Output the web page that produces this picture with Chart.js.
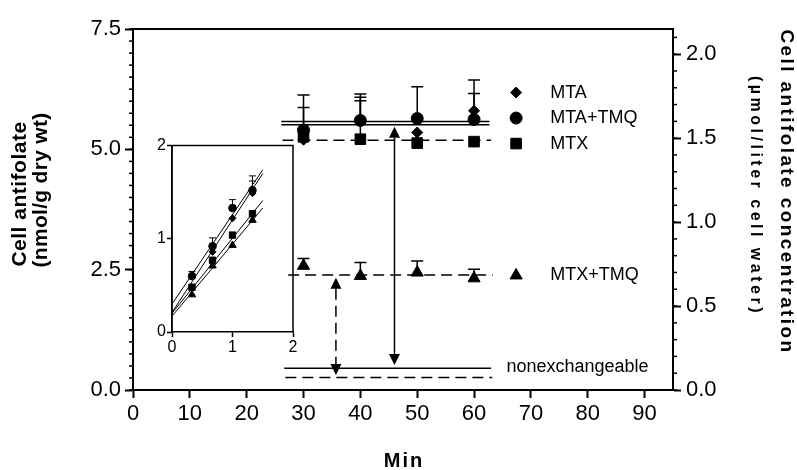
<!DOCTYPE html>
<html>
<head>
<meta charset="utf-8">
<script src="https://cdn.jsdelivr.net/npm/chart.js@4.4.0/dist/chart.umd.min.js"></script>
<style>
  html, body { margin: 0; padding: 0; background: #fff; }
  #wrap { position: relative; width: 797px; height: 470px; }
  #main { position: absolute; left: 0; top: 0; }
  #inset { position: absolute; left: 140px; top: 135px; }
</style>
</head>
<body>
<div id="wrap">
  <canvas id="main" width="797" height="470"></canvas>
  <canvas id="inset" width="160" height="220"></canvas>
</div>
<script>
// steady-state samples (min) and cell antifolate (nmol/g dry wt)
const minutes = [30, 40, 50, 60];
const mtaTmq = [5.40, 5.60, 5.64, 5.62];
const mtaTmqHigh = [6.13, 6.15, 6.30, 6.44];
const mta = [5.20, 5.58, 5.35, 5.80];
const mtaHigh = [5.87, 6.08, null, 6.16];
const mtx = [5.26, 5.21, 5.13, 5.16];
const mtxHigh = [null, 6.01, null, null];
const mtxTmq = [2.58, 2.37, 2.44, 2.32];
const mtxTmqHigh = [2.73, 2.65, 2.68, 2.51];

// plateau levels and nonexchangeable levels
const levelValues = [5.58, 5.51, 5.19, 2.39, 0.45, 0.26];
const levelFrom = [26.1, 26.1, 26.3, 27.3, 26.6, 26.8];
const levelTo = [62.7, 62.7, 63.0, 63.3, 63.0, 63.2];

// exchangeable pool arrows (MTA solid, MTX dashed)
const arrowMinutes = [46.0, 35.7];
const arrowTop = [5.47, 2.33];
const arrowBottom = [0.52, 0.31];

// initial uptake (inset)
const insetMinutes = [0.33, 0.67, 1.0, 1.33];
const insetMtaTmq = [0.60, 0.92, 1.33, 1.52];
const insetMtaTmqHigh = [0.65, 1.01, 1.42, 1.675];
const insetMta = [0.48, 0.86, 1.22, 1.49];
const insetMtaHigh = [null, null, null, 1.62];
const insetMtx = [0.48, 0.77, 1.04, 1.27];
const insetMtxTmq = [0.40, 0.71, 0.93, 1.20];
const fitAtZero = [0.30, 0.21, 0.20, 0.17];
const fitAtEnd = [1.74, 1.70, 1.41, 1.33];
const fitRange = [0, 1.5];

// tick labels
const xTicks = [0, 10, 20, 30, 40, 50, 60, 70, 80, 90];
const leftTicks = [0, 2.5, 5.0, 7.5];
const rightTicks = [0, 0.5, 1.0, 1.5, 2.0];
const insetTicks = [0, 1, 2];

Chart.defaults.font.family = '"Liberation Sans", Arial, sans-serif';
Chart.defaults.color = '#000';

const pts = (xs, ys) => xs.map((x, i) => ({ x: x, y: ys[i] }));

// short unlabeled ticks between the labeled ones
const minorTicks = {
  id: 'minorTicks',
  afterDraw(chart, args, opts) {
    const ctx = chart.ctx;
    ctx.save();
    ctx.strokeStyle = '#000';
    ctx.lineWidth = opts.width || 1.5;
    Object.keys(opts.steps || {}).forEach(id => {
      const scale = chart.scales[id];
      const step = opts.steps[id];
      const n = Math.floor((scale.max - scale.min) / step + 1e-9);
      const left = scale.position === 'left';
      const x0 = left ? scale.right : scale.left;
      for (let i = 0; i <= n; i++) {
        const y = scale.getPixelForValue(scale.min + i * step);
        ctx.beginPath();
        ctx.moveTo(x0, y);
        ctx.lineTo(x0 + (left ? -opts.length : opts.length), y);
        ctx.stroke();
      }
    });
    ctx.restore();
  }
};

// box around the plotting area
const frame = {
  id: 'frame',
  afterDraw(chart, args, opts) {
    const a = chart.chartArea, ctx = chart.ctx;
    ctx.save();
    ctx.strokeStyle = '#000';
    ctx.lineWidth = opts.width || 2;
    ctx.beginPath();
    ctx.moveTo(a.left, a.bottom);
    ctx.lineTo(a.left, a.top);
    ctx.lineTo(a.right, a.top);
    ctx.lineTo(a.right, a.bottom);
    ctx.stroke();
    ctx.restore();
  }
};

// upper SD bars, taken from dataset.errorHigh
const errorBars = {
  id: 'errorBars',
  beforeDatasetsDraw(chart, args, opts) {
    const ctx = chart.ctx;
    ctx.save();
    ctx.strokeStyle = '#000';
    ctx.lineWidth = opts.width || 1.5;
    chart.data.datasets.forEach((ds, i) => {
      if (!ds.errorHigh) return;
      const meta = chart.getDatasetMeta(i);
      const yScale = chart.scales[meta.yAxisID];
      meta.data.forEach((el, j) => {
        const hi = ds.errorHigh[j];
        if (hi == null) return;
        const yh = yScale.getPixelForValue(hi);
        ctx.beginPath();
        ctx.moveTo(el.x, el.y);
        ctx.lineTo(el.x, yh);
        ctx.moveTo(el.x - opts.cap / 2, yh);
        ctx.lineTo(el.x + opts.cap / 2, yh);
        ctx.stroke();
      });
    });
    ctx.restore();
  }
};

// double-headed arrows between plateau and nonexchangeable level
const arrows = {
  id: 'arrows',
  afterDatasetsDraw(chart, args, opts) {
    const ctx = chart.ctx, xs = chart.scales.x, ys = chart.scales.y;
    const head = 11, half = 5.5;
    ctx.save();
    ctx.strokeStyle = '#000';
    ctx.fillStyle = '#000';
    ctx.lineWidth = 1.5;
    arrowMinutes.forEach((m, i) => {
      const x = xs.getPixelForValue(m);
      const yt = ys.getPixelForValue(arrowTop[i]);
      const yb = ys.getPixelForValue(arrowBottom[i]);
      ctx.setLineDash(opts.dashed[i] ? [11, 6] : []);
      ctx.beginPath();
      ctx.moveTo(x, yt + head);
      ctx.lineTo(x, yb - head);
      ctx.stroke();
      ctx.setLineDash([]);
      ctx.beginPath();
      ctx.moveTo(x, yt);
      ctx.lineTo(x - half, yt + head);
      ctx.lineTo(x + half, yt + head);
      ctx.closePath();
      ctx.moveTo(x, yb);
      ctx.lineTo(x - half, yb - head);
      ctx.lineTo(x + half, yb - head);
      ctx.closePath();
      ctx.fill();
    });
    ctx.restore();
  }
};

// series key placed beside the curves
const keyLabels = {
  id: 'keyLabels',
  afterDraw(chart, args, opts) {
    const ctx = chart.ctx, xs = chart.scales.x, ys = chart.scales.y;
    ctx.save();
    ctx.fillStyle = '#000';
    ctx.strokeStyle = '#000';
    ctx.font = '18px "Liberation Sans", Arial, sans-serif';
    ctx.textBaseline = 'middle';
    opts.entries.forEach(e => {
      const y = ys.getPixelForValue(e.at);
      if (e.style) {
        Chart.helpers.drawPoint(ctx, { pointStyle: e.style, radius: e.radius, rotation: 0, borderWidth: 1 },
          xs.getPixelForValue(opts.markerAt), y);
      }
      ctx.fillText(e.text, xs.getPixelForValue(e.textAt || opts.textAt), y);
    });
    ctx.restore();
  }
};

// axis titles
const axisTitles = {
  id: 'axisTitles',
  afterDraw(chart) {
    const ctx = chart.ctx;
    const put = (text, x, y, rot, font, spacing) => {
      ctx.save();
      ctx.translate(x, y);
      ctx.rotate(rot);
      ctx.font = font;
      ctx.letterSpacing = spacing + 'px';
      ctx.textAlign = 'center';
      ctx.textBaseline = 'middle';
      ctx.fillStyle = '#000';
      ctx.fillText(text, 0, 0);
      ctx.restore();
    };
    const bold = s => 'bold ' + s + 'px "Liberation Sans", Arial, sans-serif';
    put('Cell antifolate', 20, 194, -Math.PI / 2, bold(21), 0.5);
    put('(nmol/g dry wt)', 41, 190, -Math.PI / 2, bold(21), 0.3);
    put('Cell antifolate concentration', 786, 192, Math.PI / 2, bold(19), 2.4);
    put('(\u00b5mol/liter cell water)', 755, 196, Math.PI / 2, bold(16), 3.5);
    put('Min', 404, 461, 0, bold(20), 2);
  }
};

const levelDash = [[], [], [11, 6], [11, 6], [], [11, 6]];

const mainDatasets = levelValues.map((v, i) => ({
  data: [{ x: levelFrom[i], y: v }, { x: levelTo[i], y: v }],
  showLine: true,
  borderColor: '#000',
  borderWidth: 1.5,
  borderDash: levelDash[i],
  pointRadius: 0,
  order: 2
})).concat([
  { label: 'MTA+TMQ', data: pts(minutes, mtaTmq), errorHigh: mtaTmqHigh, pointStyle: 'circle', pointRadius: 6 },
  { label: 'MTA', data: pts(minutes, mta), errorHigh: mtaHigh, pointStyle: 'rectRot', pointRadius: 5.5 },
  { label: 'MTX', data: pts(minutes, mtx), errorHigh: mtxHigh, pointStyle: 'rect', pointRadius: 7.5 },
  { label: 'MTX+TMQ', data: pts(minutes, mtxTmq), errorHigh: mtxTmqHigh, pointStyle: 'triangle', pointRadius: 7 }
].map(d => Object.assign(d, { backgroundColor: '#000', borderColor: '#000', borderWidth: 1, order: 1 })));

const axisLine = { color: '#000', width: 2 };

new Chart(document.getElementById('main'), {
  type: 'scatter',
  data: { datasets: mainDatasets },
  options: {
    responsive: false,
    animation: false,
    events: [],
    layout: { padding: { top: 29, left: 0, right: 0, bottom: 0 } },
    plugins: {
      legend: { display: false },
      tooltip: { enabled: false },
      minorTicks: { steps: { y: 0.25, y2: 0.1 }, length: 4, width: 1.5 },
      frame: { width: 2 },
      errorBars: { cap: 12, width: 1.5 },
      arrows: { dashed: [false, true] },
      keyLabels: {
        markerAt: 67.4,
        textAt: 73.4,
        entries: [
          { text: 'MTA', at: 6.18, style: 'rectRot', radius: 5.5 },
          { text: 'MTA+TMQ', at: 5.65, style: 'circle', radius: 6 },
          { text: 'MTX', at: 5.12, style: 'rect', radius: 7.5 },
          { text: 'MTX+TMQ', at: 2.38, style: 'triangle', radius: 7 },
          { text: 'nonexchangeable', at: 0.47, textAt: 65.7 }
        ]
      }
    },
    scales: {
      x: {
        type: 'linear', min: 0, max: 95,
        afterBuildTicks: s => { s.ticks = xTicks.map(v => ({ value: v })); },
        afterFit: s => { s.height = 80; },
        ticks: { font: { size: 22 }, color: '#000', padding: 3, autoSkip: false, maxRotation: 0, callback: v => String(v) },
        grid: { drawOnChartArea: false, tickLength: 8, tickWidth: 2, color: '#000' },
        border: axisLine
      },
      y: {
        position: 'left', min: 0, max: 7.5,
        afterBuildTicks: s => { s.ticks = leftTicks.map(v => ({ value: v })); },
        afterFit: s => { s.width = 133; },
        ticks: { font: { size: 22 }, color: '#000', padding: 4, autoSkip: false, callback: v => v.toFixed(1) },
        grid: { drawOnChartArea: false, tickLength: 8, tickWidth: 2, color: '#000' },
        border: axisLine
      },
      y2: {
        position: 'right', min: 0, max: 2.15,
        afterBuildTicks: s => { s.ticks = rightTicks.map(v => ({ value: v })); },
        afterFit: s => { s.width = 124; },
        ticks: { font: { size: 22 }, color: '#000', padding: 5, autoSkip: false, callback: v => v.toFixed(1) },
        grid: { drawOnChartArea: false, tickLength: 8, tickWidth: 2, color: '#000' },
        border: axisLine
      }
    }
  },
  plugins: [minorTicks, frame, errorBars, arrows, keyLabels, axisTitles]
});

// inset: first 90 s of uptake with fitted lines
const insetSeries = [
  { data: insetMtaTmq, high: insetMtaTmqHigh, style: 'circle', radius: 3.8 },
  { data: insetMta, high: insetMtaHigh, style: 'rectRot', radius: 3.5 },
  { data: insetMtx, high: null, style: 'rect', radius: 4.5 },
  { data: insetMtxTmq, high: null, style: 'triangle', radius: 4.3 }
];

const insetDatasets = fitAtZero.map((a, i) => ({
  data: [{ x: fitRange[0], y: a }, { x: fitRange[1], y: fitAtEnd[i] }],
  showLine: true,
  borderColor: '#000',
  borderWidth: 1,
  pointRadius: 0,
  order: 2
})).concat(insetSeries.map(s => ({
  data: pts(insetMinutes, s.data),
  errorHigh: s.high,
  pointStyle: s.style,
  pointRadius: s.radius,
  backgroundColor: '#000',
  borderColor: '#000',
  borderWidth: 1,
  order: 1
})));

const insetAxis = (ticks, fit) => ({
  type: 'linear', min: 0, max: 2,
  afterBuildTicks: s => { s.ticks = ticks.map(v => ({ value: v })); },
  afterFit: fit,
  ticks: { font: { size: 16 }, color: '#000', padding: 1, autoSkip: false, maxRotation: 0, callback: v => String(v) },
  grid: { drawOnChartArea: false, tickLength: 5, tickWidth: 1.5, color: '#000' },
  border: { color: '#000', width: 1.5 }
});

new Chart(document.getElementById('inset'), {
  type: 'scatter',
  data: { datasets: insetDatasets },
  options: {
    responsive: false,
    animation: false,
    events: [],
    layout: { padding: { top: 10, right: 7, left: 0, bottom: 0 } },
    plugins: {
      legend: { display: false },
      tooltip: { enabled: false },
      frame: { width: 1.5 },
      errorBars: { cap: 7, width: 1 }
    },
    scales: {
      x: insetAxis(insetTicks, s => { s.height = 23; }),
      y: Object.assign(insetAxis(insetTicks, s => { s.width = 32; }), { position: 'left' })
    }
  },
  plugins: [frame, errorBars]
});
</script>
</body>
</html>
